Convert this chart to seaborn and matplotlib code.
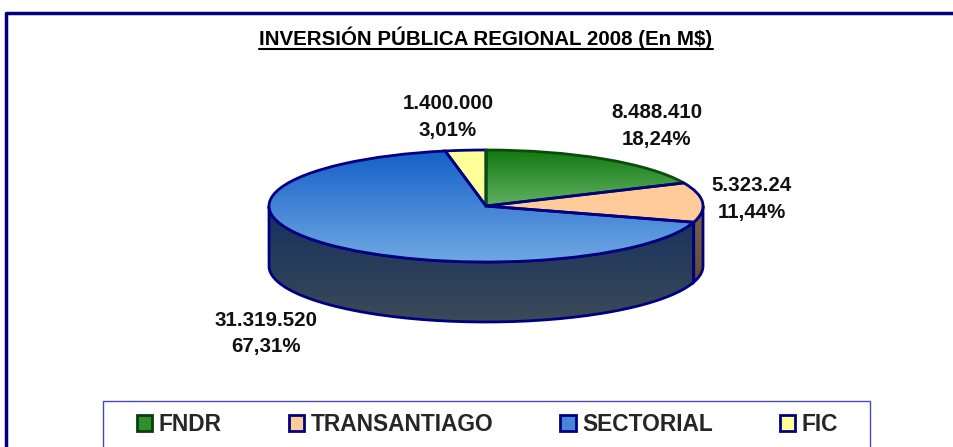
import matplotlib
matplotlib.use('Agg')
import matplotlib.pyplot as plt
from matplotlib.patches import Patch, PathPatch, Rectangle
from matplotlib.path import Path
import numpy as np
import seaborn as sns

categories = ['FNDR', 'TRANSANTIAGO', 'SECTORIAL', 'FIC']
values = [8488410, 5323240, 31319520, 1400000]
value_labels = ['8.488.410', '5.323.24', '31.319.520', '1.400.000']
pct_labels = ['18,24%', '11,44%', '67,31%', '3,01%']
title = 'INVERSIÓN PÚBLICA REGIONAL 2008 (En M$)'

W, H = 954, 447
CX, CY, RX, RY, DEPTH = 486, 206, 217, 56, 60
NAVY = '#000080'

sns.set_theme(style='white')
plt.rcParams['font.family'] = ['Liberation Sans', 'DejaVu Sans']

top_grad = [('#117a11', '#62b062'), ('#ffcc99', '#ffcc99'), ('#1560c8', '#70a8e2'), ('#ffff99', '#ffff99')]
wall_grad = [('#0a3d0a', '#0a3d0a'), ('#7d6448', '#4f3d2a'), ('#14305f', '#3c4a58'), ('#7f7f4c', '#7f7f4c')]
legend_colors = ['#2f8f2f', '#ffcc99', '#4a86d8', '#ffff99']
legend_edges = ['#0a3d0a', NAVY, NAVY, NAVY]
edge_colors = ['#0a4d0a', NAVY, NAVY, NAVY]
# FIC goes under FNDR, then the next slices on top, as in the original
edge_order = [4.1, 4.2, 4.3, 4.0]


def gradient(ax, clip, c1, c2, y0, y1, z):
    cmap = sns.blend_palette([c1, c2], as_cmap=True)
    im = ax.imshow(np.linspace(0, 1, 200).reshape(-1, 1), cmap=cmap, aspect='auto',
                   extent=(-1.1, 1.1, y1, y0), origin='upper', zorder=z)
    im.set_clip_path(clip)


fig = plt.figure(figsize=(W / 100, H / 100), dpi=100)
ax = fig.add_axes([0, 0, 1, 1])

wedges, _ = ax.pie(values, startangle=90, counterclock=False, radius=1,
                   wedgeprops=dict(linewidth=2, facecolor='none'))
ax.set_aspect('auto')
ax.set_frame_on(False)

# side wall: only the front half of the ellipse shows
d = DEPTH / RY
edges = np.cumsum([0] + values) / sum(values) * 2 * np.pi
for i in range(len(values)):
    a = max(edges[i], np.pi / 2)
    b = min(edges[i + 1], 3 * np.pi / 2)
    if a >= b:
        continue
    th = np.linspace(a, b, 120)
    x, y = np.sin(th), np.cos(th)
    verts = np.r_[np.c_[x, y], np.c_[x[::-1], y[::-1] - d], [[x[0], y[0]]]]
    wall = PathPatch(Path(verts), facecolor='none', edgecolor=NAVY, linewidth=2, zorder=3)
    ax.add_patch(wall)
    gradient(ax, wall, wall_grad[i][0], wall_grad[i][1], 0, -1 - d, 2.5)

for i, w in enumerate(wedges):
    w.set_edgecolor(edge_colors[i])
    w.set_zorder(edge_order[i])
    # the shading runs over each slice's own height
    y_low = w.get_path().transformed(w.get_patch_transform()).vertices[:, 1].min()
    gradient(ax, w, top_grad[i][0], top_grad[i][1], 1, y_low, 3.5)

# one data unit is RX pixels across and RY pixels down
ax.set_xlim(-CX / RX, (W - CX) / RX)
ax.set_ylim((CY - H) / RY, CY / RY)


def px(x, y):
    return x / W, 1 - y / H


label_pos = [(657, 126), (752, 199), (266, 333.5), (448, 117)]
for i, (x, y) in enumerate(label_pos):
    fig.text(*px(x, y), value_labels[i] + '\n' + pct_labels[i], ha='center', va='center',
             fontsize=14.8, fontweight='bold', color='#111111', linespacing=1.47)

fig.text(*px(486, 38), title, ha='center', va='center', fontsize=14.8, fontweight='bold', color='black')
fig.add_artist(plt.Line2D([259 / W, 713 / W], [1 - 48.5 / H, 1 - 48.5 / H], color='black', linewidth=1.5))

# outer frame runs off the right and bottom of the picture
fig.add_artist(plt.Line2D([1, 6.5 / W, 6.5 / W], [1 - 12.5 / H, 1 - 12.5 / H, 0], color=NAVY, linewidth=2.5))

# legend box also runs off the bottom
fig.add_artist(Rectangle((103.5 / W, -0.05), 767 / W, 0.05 + 1 - 401 / H, transform=fig.transFigure,
                         facecolor='white', edgecolor='#4a4ab0', linewidth=1))

handles = [Patch(facecolor=c, edgecolor=e, linewidth=2) for c, e in zip(legend_colors, legend_edges)]
leg = fig.legend(handles, categories, ncols=4, loc='center left', frameon=False,
                 bbox_to_anchor=(137 / W, 1 - 424.5 / H), borderaxespad=0, borderpad=0,
                 prop=dict(size=16.4, weight='bold'), handlelength=0.68, handleheight=0.72,
                 handletextpad=0.27, columnspacing=2.95)

fig.savefig('out.png', dpi=100)
